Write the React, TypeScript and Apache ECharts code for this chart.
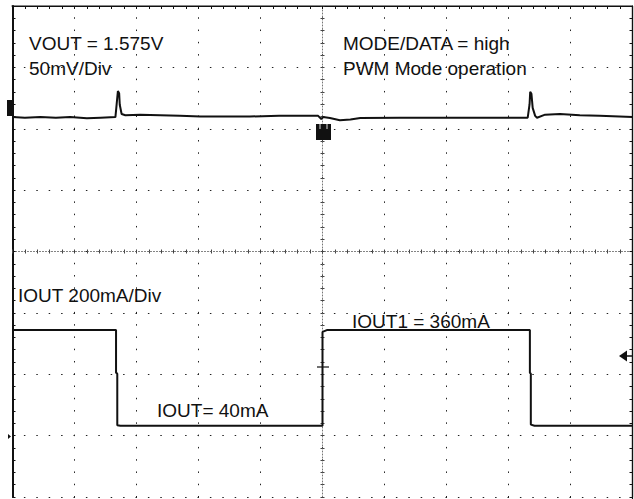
import React, { useEffect, useRef } from "react";
import * as echarts from "echarts";

// Screen divisions: 10 horizontal, 8 vertical (centre = 0,0)
const X_MIN = -5;
const X_MAX = 5;
const Y_MIN = -4;
const Y_MAX = 4;

// Channel 1 (VOUT, 50mV/div) trace, in divisions
const voutTrace: [number, number][] = [
  [-5.0, 2.19], [-4.8, 2.18], [-4.55, 2.19], [-4.3, 2.18], [-4.07, 2.19], [-3.8, 2.17],
  [-3.58, 2.18], [-3.34, 2.19], [-3.32, 2.4], [-3.3, 2.615], [-3.28, 2.58], [-3.27, 2.39],
  [-3.24, 2.24], [-3.18, 2.22], [-2.94, 2.23], [-2.62, 2.22], [-2.3, 2.21], [-1.97, 2.2],
  [-1.5, 2.2], [-1.17, 2.2], [-0.7, 2.21], [-0.36, 2.21], [-0.07, 2.21], [-0.02, 2.16],
  [0.01, 2.19], [0.12, 2.175], [0.28, 2.14], [0.45, 2.15], [0.61, 2.175], [1.25, 2.18],
  [2.06, 2.18], [2.86, 2.18], [3.31, 2.18], [3.34, 2.4], [3.35, 2.6], [3.37, 2.57],
  [3.39, 2.34], [3.43, 2.21], [3.46, 2.18], [3.59, 2.23], [3.83, 2.24], [4.15, 2.22],
  [4.47, 2.21], [5.0, 2.19],
];

// Channel 2 (IOUT, 200mA/div) trace, in divisions
const ioutTrace: [number, number][] = [
  [-5, -1.28], [-3.33, -1.28], [-3.33, -1.975], [-3.31, -1.99], [-3.31, -2.83], [-3.26, -2.84],
  [0.0, -2.84], [0.0, -1.31], [0.07, -1.28], [3.345, -1.28], [3.345, -1.975], [3.36, -1.99],
  [3.36, -2.82], [3.42, -2.84], [5, -2.84],
];

const labels = [
  { text: "VOUT = 1.575V", x: 29, y: 43 },
  { text: "50mV/Div", x: 29, y: 68 },
  { text: "MODE/DATA = high", x: 343, y: 43 },
  { text: "PWM Mode operation", x: 343, y: 68 },
  { text: "IOUT 200mA/Div", x: 18, y: 295 },
  { text: "IOUT1 = 360mA", x: 352, y: 321 },
  { text: "IOUT= 40mA", x: 157, y: 410 },
];

const FONT = '19px "Liberation Sans", Arial, Helvetica, sans-serif';
const INK = "#111";
const DOT = "#222";

export default function App() {
  const ref = useRef<HTMLDivElement>(null);

  useEffect(() => {
    if (!ref.current) return;
    const chart = echarts.init(ref.current, undefined, { renderer: "svg" });

    const rect = { left: 12.5, top: 6, width: 620, height: 491, containLabel: false };
    const noLabel = () => ({ show: false });
    const noSplit = () => ({ show: false });
    const xAx = (extra: any) => ({
      type: "value", min: X_MIN, max: X_MAX, axisLabel: noLabel(), splitLine: noSplit(), ...extra,
    });
    const yAx = (extra: any) => ({
      type: "value", min: Y_MIN, max: Y_MAX, axisLabel: noLabel(), splitLine: noSplit(), ...extra,
    });
    const ticks = (inside: boolean, length: number, color: string) => ({
      show: true, inside, length, lineStyle: { color, width: 1 },
    });
    const centreLine = () => ({ show: true, onZero: true, lineStyle: { color: "#777", width: 1, type: [1, 2] } });

    chart.setOption({
      animation: false,
      backgroundColor: "#fff",
      grid: [rect, rect, rect, rect, rect].map((r) => ({ ...r })),
      xAxis: [
        // grid 0: vertical dotted division lines
        xAx({
          gridIndex: 0, position: "bottom", interval: 1,
          axisLine: { show: false, onZero: false }, axisTick: { show: false },
          splitLine: { show: true, lineStyle: { color: DOT, width: 1, type: [1.5, 10.775], dashOffset: 0.75 } },
        }),
        // grid 1: top border with sub-division ticks
        xAx({
          gridIndex: 1, position: "top", interval: 0.2,
          axisLine: { show: true, onZero: false, lineStyle: { color: INK, width: 1.2 } },
          axisTick: ticks(true, 3, INK),
        }),
        // grid 2/3: centre horizontal axis, ticks both sides
        xAx({ gridIndex: 2, position: "bottom", interval: 0.2, axisLine: centreLine(), axisTick: ticks(false, 2, "#444") }),
        xAx({ gridIndex: 3, position: "bottom", interval: 0.2, axisLine: { show: false, onZero: true }, axisTick: ticks(true, 2, "#444") }),
        // grid 4: helper (hidden)
        xAx({ gridIndex: 4, position: "bottom", interval: 1, show: false }),
      ],
      yAxis: [
        // grid 0: left border + horizontal dotted division lines
        yAx({
          gridIndex: 0, position: "left", interval: 1,
          axisLine: { show: true, onZero: false, lineStyle: { color: INK, width: 2 } }, axisTick: { show: false },
          splitLine: { show: true, lineStyle: { color: DOT, width: 1, type: [1.5, 10.9], dashOffset: 0.75 } },
        }),
        // grid 1: right border with sub-division ticks
        yAx({
          gridIndex: 1, position: "right", interval: 0.2,
          axisLine: { show: true, onZero: false, lineStyle: { color: INK, width: 1.2 } },
          axisTick: ticks(true, 3, INK),
        }),
        // grid 2/3: centre vertical axis, ticks both sides
        yAx({ gridIndex: 2, position: "left", interval: 0.2, axisLine: centreLine(), axisTick: ticks(false, 2, "#444") }),
        yAx({ gridIndex: 3, position: "left", interval: 0.2, axisLine: { show: false, onZero: true }, axisTick: ticks(true, 2, "#444") }),
        // grid 4: left border sub-division ticks
        yAx({
          gridIndex: 4, position: "left", interval: 0.2,
          axisLine: { show: false, onZero: false }, axisTick: ticks(true, 3, INK),
        }),
      ],
      series: [
        {
          type: "line",
          name: "VOUT",
          xAxisIndex: 0,
          yAxisIndex: 0,
          data: voutTrace,
          showSymbol: false,
          lineStyle: { color: INK, width: 2 },
          z: 5,
        },
        {
          type: "line",
          name: "IOUT",
          xAxisIndex: 0,
          yAxisIndex: 0,
          data: ioutTrace,
          showSymbol: false,
          lineStyle: { color: INK, width: 2 },
          z: 5,
        },
      ],
      graphic: [
        // outer screen border (top and right)
        { type: "line", z: 9, shape: { x1: 11.5, y1: 6, x2: 633, y2: 6 }, style: { stroke: INK, lineWidth: 1.2 } },
        { type: "line", z: 9, shape: { x1: 632.5, y1: 6, x2: 632.5, y2: 499 }, style: { stroke: INK, lineWidth: 1.2 } },
        ...labels.map((l) => ({
          type: "text",
          x: l.x,
          y: l.y,
          z: 10,
          style: { text: l.text, font: FONT, fill: INK, verticalAlign: "middle", align: "left" },
        })),
        // channel 1 ground marker
        { type: "rect", z: 10, shape: { x: 7, y: 100, width: 5, height: 16 }, style: { fill: INK } },
        // channel 2 ground marker
        { type: "polygon", z: 10, shape: { points: [[8, 434], [11, 436.5], [8, 439]] }, style: { fill: INK } },
        // trigger position marker
        { type: "rect", z: 10, shape: { x: 316, y: 124, width: 15, height: 16 }, style: { fill: INK } },
        { type: "line", z: 11, shape: { x1: 320, y1: 124, x2: 320, y2: 129 }, style: { stroke: "#ddd", lineWidth: 1 } },
        { type: "line", z: 11, shape: { x1: 327, y1: 124, x2: 327, y2: 129 }, style: { stroke: "#ddd", lineWidth: 1 } },
        // trigger level marker
        { type: "polygon", z: 10, shape: { points: [[619, 356], [627, 350.5], [627, 361.5]] }, style: { fill: INK } },
        { type: "line", z: 10, shape: { x1: 626, y1: 356, x2: 633, y2: 356 }, style: { stroke: INK, lineWidth: 1.5 } },
        // trigger point on edge
        { type: "line", z: 10, shape: { x1: 317, y1: 367, x2: 329, y2: 367 }, style: { stroke: INK, lineWidth: 1.2 } },
      ],
    });

    return () => chart.dispose();
  }, []);

  return (
    <div
      ref={ref}
      style={{ position: "fixed", left: 0, top: 0, width: 634, height: 499, background: "#fff" }}
    />
  );
}
